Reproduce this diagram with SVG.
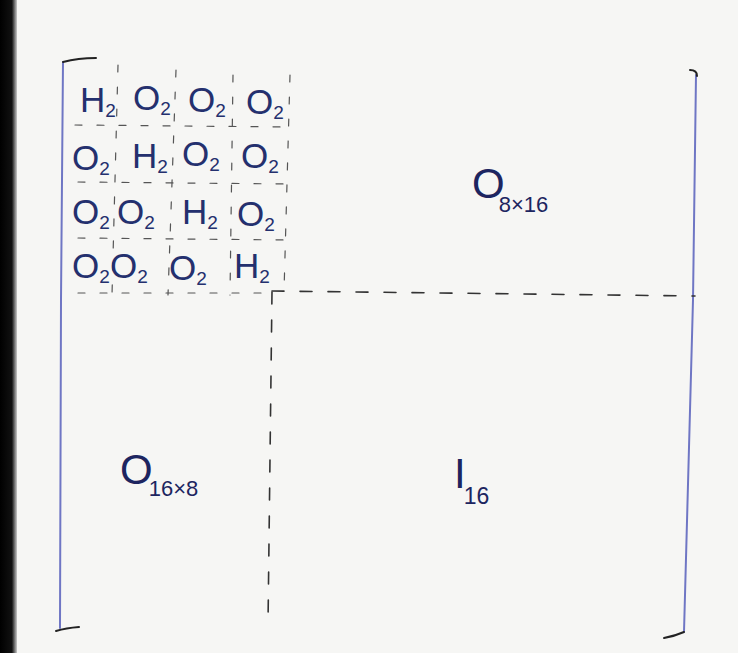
<svg xmlns="http://www.w3.org/2000/svg" width="738" height="653" viewBox="0 0 738 653">
<defs>
<linearGradient id="edge" x1="0" x2="1" y1="0" y2="0">
<stop offset="0" stop-color="#000"/>
<stop offset="0.7" stop-color="#111"/>
<stop offset="1" stop-color="#c8c8c8"/>
</linearGradient>
<style>
.ink{fill:#24306e;font-family:"Liberation Sans",sans-serif;font-size:35px}
.sub{font-size:19px}
.lbl{fill:#1d2560;font-family:"Liberation Sans",sans-serif;font-size:42px}
.br{fill:none;stroke:#6f76c4;stroke-width:2;stroke-linecap:round}
.brk{fill:none;stroke:#222;stroke-width:2;stroke-linecap:round}
.dash{fill:none;stroke:#333;stroke-width:1.6;stroke-dasharray:12 16;stroke-linecap:round}
.gdash{fill:none;stroke:#555;stroke-width:1.2;stroke-dasharray:7 15;stroke-linecap:round}
</style>
</defs>
<rect width="738" height="653" fill="#f6f6f4"/>
<rect x="0" y="0" width="17" height="653" fill="url(#edge)"/>

<g id="left-bracket">
<path class="br" d="M63 62 L61 300 L60 628"/>
<path class="brk" d="M63 62 Q78 58 96 58"/>
<path class="brk" d="M56 631 Q66 628 79 627"/>
</g>
<g id="right-bracket">
<path class="br" d="M696 75 L693 300 L684 632"/>
<path class="brk" d="M690 70 Q697 70 697 76"/>
<path class="brk" d="M664 638 Q675 636 684 632"/>
</g>

<g id="connectors">
<path class="dash" d="M272 291 L695 296"/>
<path class="dash" d="M272 292 L268 625"/>
<path class="gdash" d="M118 65 L112 295"/>
<path class="gdash" d="M176 70 L168 295"/>
<path class="gdash" d="M233 75 L230 295"/>
<path class="gdash" d="M290 75 L284 292"/>
<path class="gdash" d="M75 125 L290 127"/>
<path class="gdash" d="M78 182 L290 184"/>
<path class="gdash" d="M78 238 L290 240"/>
<path class="gdash" d="M78 293 L270 293"/>
</g>

<g id="block-D">
<text class="ink" x="80" y="112">H<tspan class="sub" dy="5">2</tspan></text>
<text class="ink" x="133" y="110">O<tspan class="sub" dy="5">2</tspan></text>
<text class="ink" x="188" y="112">O<tspan class="sub" dy="5">2</tspan></text>
<text class="ink" x="246" y="114">O<tspan class="sub" dy="5">2</tspan></text>

<text class="ink" x="72" y="170">O<tspan class="sub" dy="5">2</tspan></text>
<text class="ink" x="132" y="168">H<tspan class="sub" dy="5">2</tspan></text>
<text class="ink" x="182" y="166">O<tspan class="sub" dy="5">2</tspan></text>
<text class="ink" x="241" y="168">O<tspan class="sub" dy="5">2</tspan></text>

<text class="ink" x="72" y="224">O<tspan class="sub" dy="5">2</tspan></text>
<text class="ink" x="117" y="224">O<tspan class="sub" dy="5">2</tspan></text>
<text class="ink" x="182" y="224">H<tspan class="sub" dy="5">2</tspan></text>
<text class="ink" x="237" y="226">O<tspan class="sub" dy="5">2</tspan></text>

<text class="ink" x="72" y="278">O<tspan class="sub" dy="5">2</tspan></text>
<text class="ink" x="110" y="278">O<tspan class="sub" dy="5">2</tspan></text>
<text class="ink" x="169" y="280">O<tspan class="sub" dy="5">2</tspan></text>
<text class="ink" x="234" y="278">H<tspan class="sub" dy="5">2</tspan></text>
</g>

<g id="block-O8x16">
<text class="lbl" x="472" y="198">O<tspan font-size="22" dx="-6" dy="14">8×16</tspan></text>
</g>
<g id="block-O16x8">
<text class="lbl" x="120" y="484">O<tspan font-size="22" dx="-4" dy="12">16×8</tspan></text>
</g>
<g id="block-I16">
<text class="lbl" x="454" y="488">I<tspan font-size="23" dx="-2" dy="16">16</tspan></text>
</g>
</svg>
